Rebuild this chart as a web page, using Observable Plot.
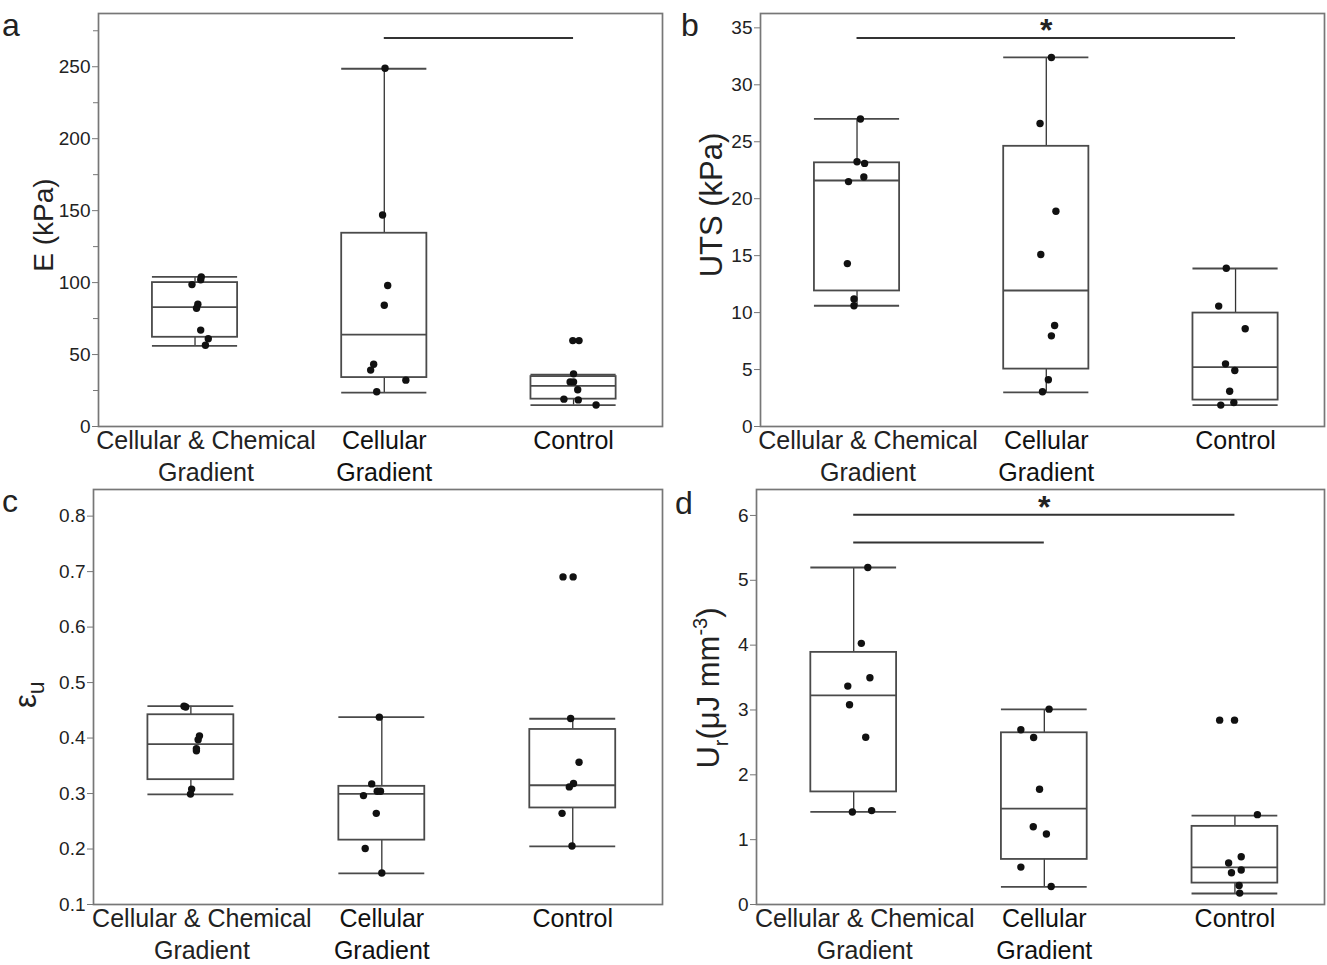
<!DOCTYPE html>
<html><head><meta charset="utf-8">
<script src="https://cdn.jsdelivr.net/npm/d3@7"></script>
<script src="https://cdn.jsdelivr.net/npm/@observablehq/plot@0.6"></script>
<style>
body{margin:0;background:#fff;}
#fig{position:relative;width:1327px;height:965px;background:#fff;overflow:hidden;font-family:"Liberation Sans",Arial,Helvetica,sans-serif;}
.panel{position:absolute;}
.panel svg{overflow:visible;background:transparent;}
</style></head><body><div id="fig"></div>
<script>
// ---------- data ----------
const categories = ["Cellular & Chemical\nGradient", "Cellular\nGradient", "Control"];

// a: Young's modulus E (kPa)
const modulusValues = [
  [104, 102, 98.6, 85, 82.2, 67, 61, 56.5],
  [249, 147, 98, 84.3, 43.3, 39.2, 32.2, 24.1],
  [59.7, 59.7, 36.6, 31, 31, 25.5, 19, 18.5, 14.9]
];
const modulusJitter = [
  [0.033, 0.03, -0.016, 0.015, 0.008, 0.03, 0.07, 0.055],
  [0.004, -0.009, 0.018, 0, -0.056, -0.072, 0.114, -0.04],
  [-0.004, 0.029, 0, -0.018, 0, 0.022, -0.051, 0.025, 0.119]
];
const modulusBoxes = [
  {lo: 56, q1: 62, med: 83, q3: 100, hi: 104},
  {lo: 23.6, q1: 34, med: 63.9, q3: 134.3, hi: 248.6},
  {lo: 14.9, q1: 19, med: 28.3, q3: 34.7, hi: 36.1}
];
const modulusTicks = [0, 50, 100, 150, 200, 250];
const modulusMinorTicks = [25, 75, 125, 175, 225, 275];
const modulusBars = [{from: 1, to: 2, y: 270}];

// b: UTS (kPa)
const utsValues = [
  [27, 23.24, 23.1, 21.9, 21.5, 14.3, 11.2, 10.6],
  [32.4, 26.6, 18.9, 15.1, 8.87, 7.96, 4.1, 3.05],
  [13.9, 10.57, 8.58, 5.5, 4.92, 3.1, 2.1, 1.88]
];
const utsJitter = [
  [0.018, 0, 0.04, 0.036, -0.045, -0.051, -0.016, -0.016],
  [0.027, -0.033, 0.051, -0.029, 0.044, 0.027, 0.011, -0.02],
  [-0.049, -0.089, 0.051, -0.053, -0.004, -0.031, -0.009, -0.078]
];
const utsBoxes = [
  {lo: 10.6, q1: 11.9, med: 21.6, q3: 23.15, hi: 27},
  {lo: 2.99, q1: 5.04, med: 11.94, q3: 24.6, hi: 32.4},
  {lo: 1.88, q1: 2.32, med: 5.21, q3: 9.96, hi: 13.87}
];
const utsTicks = [0, 5, 10, 15, 20, 25, 30, 35];
const utsBars = [{from: 0, to: 2, y: 34.1}];
const utsStars = [{x: 1, y: 35.2}];

// c: ultimate strain
const strainValues = [
  [0.4575, 0.456, 0.404, 0.397, 0.381, 0.377, 0.308, 0.299],
  [0.4377, 0.3174, 0.304, 0.304, 0.2963, 0.2643, 0.201, 0.1567],
  [0.6905, 0.6905, 0.4353, 0.3564, 0.318, 0.312, 0.2643, 0.2055]
];
const strainJitter = [
  [-0.036, -0.027, 0.045, 0.038, 0.029, 0.029, 0.004, -0.002],
  [-0.013, -0.053, -0.024, -0.007, -0.096, -0.029, -0.087, 0],
  [-0.051, 0.002, -0.011, 0.033, 0.004, -0.018, -0.056, -0.004]
];
const strainBoxes = [
  {lo: 0.2986, q1: 0.325, med: 0.389, q3: 0.442, hi: 0.4575},
  {lo: 0.156, q1: 0.216, med: 0.2995, q3: 0.313, hi: 0.4377},
  {lo: 0.2048, q1: 0.274, med: 0.3149, q3: 0.4155, hi: 0.4348}
];
const strainTicks = [0.1, 0.2, 0.3, 0.4, 0.5, 0.6, 0.7, 0.8];

// d: resilience Ur (uJ mm^-3)
const resilValues = [
  [5.197, 4.027, 3.497, 3.368, 3.08, 2.58, 1.448, 1.427],
  [3.013, 2.694, 2.575, 1.777, 1.2, 1.087, 0.577, 0.278],
  [2.843, 2.843, 1.386, 0.737, 0.64, 0.531, 0.49, 0.294, 0.176]
];
const resilJitter = [
  [0.074, 0.04, 0.085, -0.031, -0.022, 0.063, 0.094, -0.007],
  [0.025, -0.123, -0.056, -0.025, -0.058, 0.011, -0.123, 0.036],
  [-0.08, -0.002, 0.118, 0.033, -0.033, 0.033, -0.018, 0.022, 0.025]
];
const resilBoxes = [
  {lo: 1.427, q1: 1.736, med: 3.224, q3: 3.888, hi: 5.197},
  {lo: 0.273, q1: 0.695, med: 1.478, q3: 2.648, hi: 3.008},
  {lo: 0.17, q1: 0.33, med: 0.572, q3: 1.205, hi: 1.37}
];
const resilTicks = [0, 1, 2, 3, 4, 5, 6];
const resilBars = [{from: 0, to: 2, y: 6.01}, {from: 0, to: 1, y: 5.583}];
const resilStars = [{x: 1, y: 6.19}];

// ---------- drawing ----------
const FONT = '"Liberation Sans", Arial, Helvetica, sans-serif';
const fig = document.getElementById("fig");

function makePanel(cfg) {
  const pts = [];
  cfg.values.forEach((arr, i) => arr.forEach((v, j) => pts.push({cat: i, value: v, jit: cfg.jitter[i][j]})));
  const boxes = cfg.boxes.map((b, i) => ({cat: i, ...b}));
  const hw = 0.225;
  const boxStroke = "#4a4a4a";
  const marks = [
    Plot.frame({stroke: "#777", strokeWidth: 1.7}),
    Plot.axisY({ticks: cfg.ticks, tickSize: 6, tickPadding: 2, stroke: "#777", color: "#222",
      fontSize: 19, label: null, tickFormat: cfg.fmt || (d => String(d))})
  ];
  if (cfg.minor) marks.push(Plot.axisY({ticks: cfg.minor, tickSize: 5, stroke: "#777", label: null, tickFormat: () => ""}));
  marks.push(
    Plot.ruleX(boxes, {x: "cat", y1: "q3", y2: "hi", stroke: "#333", strokeWidth: 1.3}),
    Plot.ruleX(boxes, {x: "cat", y1: "lo", y2: "q1", stroke: "#333", strokeWidth: 1.3}),
    Plot.rect(boxes, {x1: d => d.cat - hw, x2: d => d.cat + hw, y1: "q1", y2: "q3", fill: "none", stroke: boxStroke, strokeWidth: 1.8}),
    Plot.ruleY(boxes, {y: "med", x1: d => d.cat - hw, x2: d => d.cat + hw, stroke: boxStroke, strokeWidth: 1.8}),
    Plot.ruleY(boxes, {y: "hi", x1: d => d.cat - hw, x2: d => d.cat + hw, stroke: boxStroke, strokeWidth: 1.8}),
    Plot.ruleY(boxes, {y: "lo", x1: d => d.cat - hw, x2: d => d.cat + hw, stroke: boxStroke, strokeWidth: 1.8}),
    Plot.dot(pts, {x: d => d.cat + d.jit, y: "value", r: 3.7, fill: "#111", stroke: "none"}),
    Plot.ruleY(cfg.bars || [], {y: "y", x1: "from", x2: "to", stroke: "#333", strokeWidth: 2}),
    Plot.text(cfg.stars || [], {x: "x", y: "y", text: () => "*", fontSize: 32, fontWeight: "bold", fill: "#222", dy: 5}),
    Plot.text([0], {x: d => d, text: d => categories[d], frameAnchor: "bottom", lineAnchor: "top", dy: -1, dx: 11, fontSize: 25, lineHeight: 1.3, fill: "#222"}),
    Plot.text([1, 2], {x: d => d, text: d => categories[d], frameAnchor: "bottom", lineAnchor: "top", dy: -1, fontSize: 25, lineHeight: 1.3, fill: "#111"})
  );
  const svg = Plot.plot({
    width: cfg.width, height: cfg.height,
    marginLeft: cfg.ml, marginRight: cfg.mr, marginTop: cfg.mt, marginBottom: cfg.mb,
    style: {fontFamily: FONT, background: "transparent", color: "#222", overflow: "visible"},
    x: {domain: [-0.51, 2.47], axis: null},
    y: {domain: cfg.domain, axis: null},
    marks
  });
  const s = d3.select(svg);
  s.append("text").attr("x", cfg.letterX).attr("y", cfg.letterY)
    .attr("font-size", 32).attr("fill", "#222").attr("font-family", FONT).text(cfg.letter);
  const t = s.append("text")
    .attr("transform", `translate(${cfg.titleX},${cfg.titleY}) rotate(-90)`)
    .attr("text-anchor", cfg.titleAnchor || "middle")
    .attr("font-family", FONT).attr("fill", "#222").attr("font-size", cfg.titleSize);
  cfg.title(t);
  const div = document.createElement("div");
  div.className = "panel";
  div.style.left = cfg.left + "px";
  div.style.top = cfg.top + "px";
  div.appendChild(svg);
  fig.appendChild(div);
}

makePanel({
  letter: "a", letterX: 11, letterY: 36,
  left: 0, top: 0, width: 665, height: 482, ml: 98, mr: 3, mt: 13, mb: 56,
  domain: [0, 287], ticks: modulusTicks, minor: modulusMinorTicks,
  values: modulusValues, jitter: modulusJitter, boxes: modulusBoxes, bars: modulusBars,
  titleX: 53, titleY: 225, titleSize: 28,
  title: t => t.text("E (kPa)")
});

makePanel({
  letter: "b", letterX: 27, letterY: 36,
  left: 663, top: 0, width: 664, height: 482, ml: 97, mr: 3, mt: 13, mb: 56,
  domain: [0, 36.26], ticks: utsTicks,
  values: utsValues, jitter: utsJitter, boxes: utsBoxes, bars: utsBars, stars: utsStars,
  titleX: 59, titleY: 205, titleSize: 31,
  title: t => t.text("UTS (kPa)")
});

makePanel({
  letter: "c", letterX: 10, letterY: 32,
  left: 0, top: 480, width: 665, height: 485, ml: 93, mr: 3, mt: 9, mb: 61,
  domain: [0.1, 0.848], ticks: strainTicks, fmt: d => d.toFixed(1),
  values: strainValues, jitter: strainJitter, boxes: strainBoxes,
  titleX: 36, titleY: 228, titleSize: 31, titleAnchor: "start",
  title: t => { t.append("tspan").text("ε"); t.append("tspan").attr("font-size", 23).attr("dy", 8).text("u"); }
});

makePanel({
  letter: "d", letterX: 21, letterY: 34,
  left: 663, top: 480, width: 664, height: 485, ml: 93, mr: 3, mt: 9, mb: 61,
  domain: [0, 6.4], ticks: resilTicks,
  values: resilValues, jitter: resilJitter, boxes: resilBoxes, bars: resilBars, stars: resilStars,
  titleX: 56, titleY: 208, titleSize: 31,
  title: t => {
    t.append("tspan").text("U");
    t.append("tspan").attr("font-size", 20).attr("dy", 9).text("r");
    t.append("tspan").attr("dy", -9).text("(μJ mm");
    t.append("tspan").attr("font-size", 20).attr("dy", -12).text("-3");
    t.append("tspan").attr("dy", 12).text(")");
  }
});
</script></body></html>
